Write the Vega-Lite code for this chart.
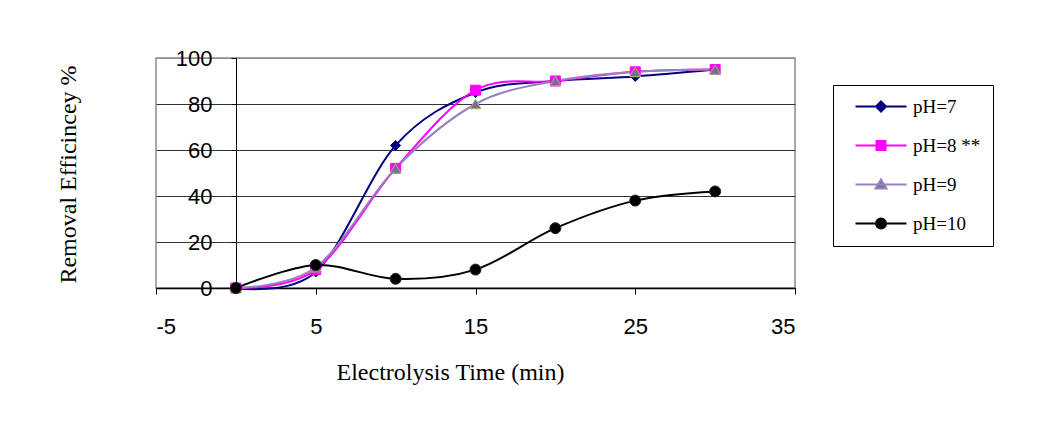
{
  "$schema": "https://vega.github.io/schema/vega-lite/v6.json",
  "width": 639,
  "height": 230,
  "autosize": {"type": "none"},
  "padding": {"left": 156, "top": 58, "right": 266, "bottom": 137},
  "background": "white",
  "data": {
    "values": [
      {"time": 0, "series": "pH=7", "removal": 0},
      {"time": 5, "series": "pH=7", "removal": 7},
      {"time": 10, "series": "pH=7", "removal": 62},
      {"time": 15, "series": "pH=7", "removal": 85},
      {"time": 20, "series": "pH=7", "removal": 90},
      {"time": 25, "series": "pH=7", "removal": 92},
      {"time": 30, "series": "pH=7", "removal": 95},
      {"time": 0, "series": "pH=8 **", "removal": 0},
      {"time": 5, "series": "pH=8 **", "removal": 8},
      {"time": 10, "series": "pH=8 **", "removal": 52},
      {"time": 15, "series": "pH=8 **", "removal": 86},
      {"time": 20, "series": "pH=8 **", "removal": 90},
      {"time": 25, "series": "pH=8 **", "removal": 94},
      {"time": 30, "series": "pH=8 **", "removal": 95},
      {"time": 0, "series": "pH=9", "removal": 0},
      {"time": 5, "series": "pH=9", "removal": 9},
      {"time": 10, "series": "pH=9", "removal": 52},
      {"time": 15, "series": "pH=9", "removal": 80},
      {"time": 20, "series": "pH=9", "removal": 90},
      {"time": 25, "series": "pH=9", "removal": 94},
      {"time": 30, "series": "pH=9", "removal": 95},
      {"time": 0, "series": "pH=10", "removal": 0},
      {"time": 5, "series": "pH=10", "removal": 10},
      {"time": 10, "series": "pH=10", "removal": 4},
      {"time": 15, "series": "pH=10", "removal": 8},
      {"time": 20, "series": "pH=10", "removal": 26},
      {"time": 25, "series": "pH=10", "removal": 38},
      {"time": 30, "series": "pH=10", "removal": 42}
    ]
  },
  "resolve": {"axis": {"y": "independent"}},
  "layer": [
    {
      "mark": {"type": "line", "interpolate": "cardinal", "strokeWidth": 2},
      "encoding": {
        "x": {
          "field": "time",
          "type": "quantitative",
          "scale": {"domain": [-5, 35], "nice": false, "zero": false},
          "axis": {
            "values": [-5, 5, 15, 25, 35],
            "labelExpr": "'' + datum.value",
            "grid": false,
            "domainColor": "#000",
            "domainWidth": 1.5,
            "tickColor": "#000",
            "tickSize": 6,
            "labelFont": "Liberation Sans",
            "labelFontSize": 22,
            "labelColor": "#000",
            "labelPadding": 22,
            "title": "Electrolysis Time (min)",
            "titleFont": "Liberation Serif",
            "titleFontSize": 24,
            "titleFontWeight": "normal",
            "titleColor": "#000",
            "titleX": 294,
            "titleY": 91,
            "titleBaseline": "alphabetic"
          }
        },
        "y": {
          "field": "removal",
          "type": "quantitative",
          "scale": {"domain": [0, 100], "nice": false},
          "axis": {
            "orient": "left",
            "values": [0, 20, 40, 60, 80, 100],
            "grid": true,
            "gridColor": {"condition": {"test": "datum.value === 100", "value": "#8c8c8c"}, "value": "#333333"},
            "gridWidth": 1,
            "gridOpacity": 1,
            "labels": false,
            "ticks": false,
            "domain": false,
            "title": "Removal Efficincey %",
            "titleFont": "Liberation Serif",
            "titleFontSize": 24,
            "titleFontWeight": "normal",
            "titleColor": "#000",
            "titleX": -81,
            "titleY": 116,
            "titleAngle": -90,
            "titleAlign": "center",
            "titleBaseline": "alphabetic"
          }
        },
        "color": {
          "field": "series",
          "type": "nominal",
          "scale": {
            "domain": ["pH=7", "pH=8 **", "pH=9", "pH=10"],
            "range": ["#000080", "#ff00ff", "#9682bd", "#000000"]
          },
          "legend": {
            "title": null,
            "orient": "none",
            "legendX": 677,
            "legendY": 27,
            "direction": "vertical",
            "strokeColor": "#000",
            "fillColor": "#fff",
            "padding": 12,
            "symbolSize": 100,
            "labelOffset": 49,
            "rowPadding": 19,
            "labelFont": "Liberation Serif",
            "labelFontSize": 19,
            "labelColor": "#000",
            "encode": {
              "symbols": {
                "update": {
                  "shape": {"signal": "datum.value === 'pH=7' ? 'M0.2,0H10.4M5.3,-1L6.3,0L5.3,1L4.3,0Z' : datum.value === 'pH=8 **' ? 'M0.2,0H10.4M4.4,-0.9H6.2V0.9H4.4Z' : datum.value === 'pH=9' ? 'M0.2,0H10.4M5.3,-1L6.4,0.8H4.2Z' : 'M0.2,0H10.4M6.3,0A1,1 0 1,1 4.3,0A1,1 0 1,1 6.3,0Z'"},
                  "fill": {"signal": "datum.value === 'pH=9' ? '#7a6a9c' : scale('color', datum.value)"},
                  "strokeWidth": {"value": 2},
                  "opacity": {"value": 1}
                }
              }
            }
          }
        }
      }
    },
    {
      "transform": [{"filter": "datum.series === 'pH=7'"}],
      "mark": {"type": "point", "shape": "diamond", "filled": true, "fill": "#000080", "stroke": "#000080", "strokeWidth": 1, "size": 100, "opacity": 1},
      "encoding": {
        "x": {"field": "time", "type": "quantitative"},
        "y": {
          "field": "removal",
          "type": "quantitative",
          "axis": {
            "orient": "left",
            "offset": -80,
            "values": [0, 20, 40, 60, 80, 100],
            "grid": false,
            "domain": true,
            "domainColor": "#000",
            "domainWidth": 1,
            "ticks": true,
            "tickColor": "#000",
            "tickSize": 5,
            "labelFont": "Liberation Sans",
            "labelFontSize": 22,
            "labelColor": "#000",
            "labelPadding": 19,
            "title": null
          }
        }
      }
    },
    {
      "transform": [{"filter": "datum.series === 'pH=8 **'"}],
      "mark": {"type": "point", "shape": "square", "filled": true, "fill": "#ff00ff", "stroke": "#ff00ff", "strokeWidth": 1, "size": 100, "opacity": 1},
      "encoding": {
        "x": {"field": "time", "type": "quantitative"},
        "y": {"field": "removal", "type": "quantitative", "axis": null}
      }
    },
    {
      "transform": [{"filter": "datum.series === 'pH=9'"}],
      "mark": {"type": "point", "shape": "triangle-up", "filled": true, "fill": "#7a6a9c", "stroke": "#a4b46c", "strokeWidth": 1, "size": 120, "opacity": 1},
      "encoding": {
        "x": {"field": "time", "type": "quantitative"},
        "y": {"field": "removal", "type": "quantitative", "axis": null}
      }
    },
    {
      "transform": [{"filter": "datum.series === 'pH=10'"}],
      "mark": {"type": "point", "shape": "circle", "filled": true, "fill": "#000000", "stroke": "#2a1a3a", "strokeWidth": 1, "size": 121, "opacity": 1},
      "encoding": {
        "x": {"field": "time", "type": "quantitative"},
        "y": {"field": "removal", "type": "quantitative", "axis": null}
      }
    }
  ],
  "config": {
    "view": {"stroke": "#8c8c8c", "strokeWidth": 1.5, "fill": "white"}
  }
}
